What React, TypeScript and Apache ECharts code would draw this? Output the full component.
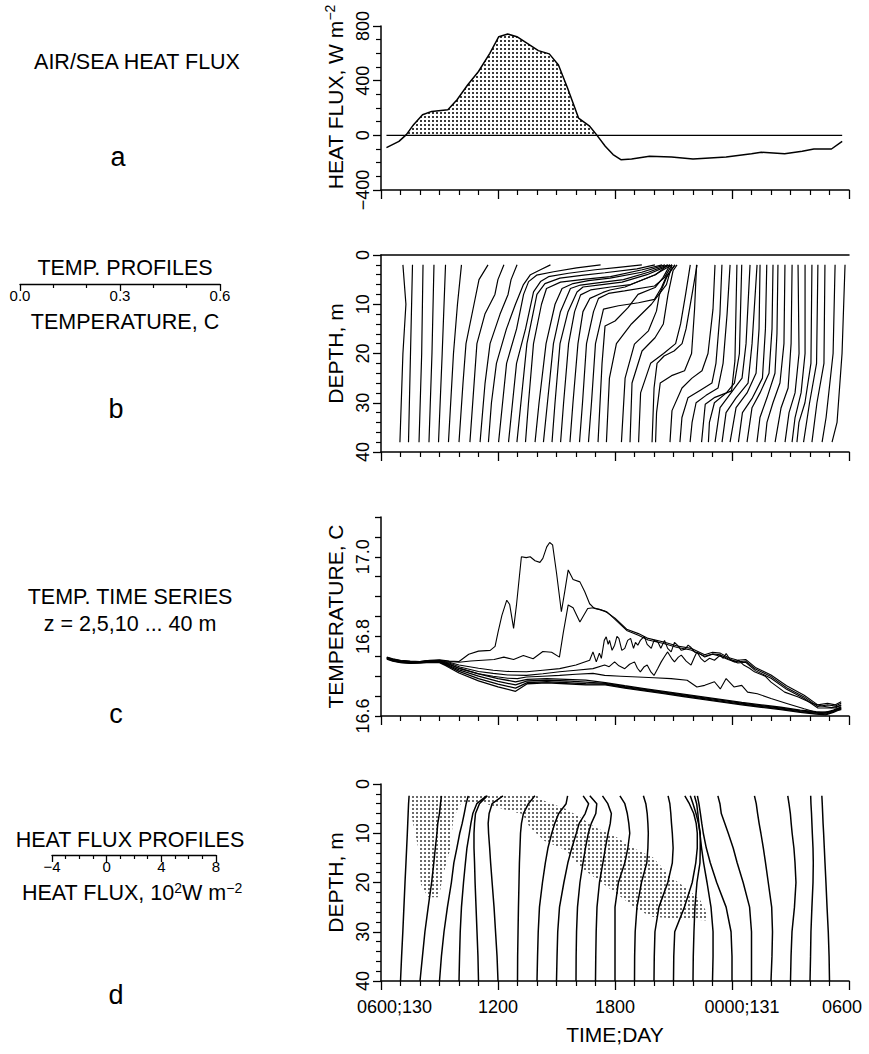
import React, { useEffect, useRef } from 'react';
import * as echarts from 'echarts';

const FONT = '"Liberation Sans", Arial, Helvetica, sans-serif';
const INK = '#000';

// ---------------- shared time axis: hours after 0600, day 130 ----------------
const TIME_TICKS = [0, 6, 12, 18, 24];
const TIME_LABELS = ['0600;130', '1200', '1800', '0000;131', '0600'];

// ---------------- (a) net air/sea heat flux, [hour, W m^-2] ----------------
const HEAT_FLUX: [number, number][] = [
  [0.28, -90], [0.92, -44], [1.3, 5], [1.67, 78], [2.13, 151], [2.6, 175], [3.43, 187],
  [3.9, 260], [4.45, 370], [5.0, 467], [5.58, 600], [6.04, 722], [6.5, 741], [6.97, 722],
  [7.5, 673], [8.07, 620], [8.63, 596], [9.1, 515], [9.57, 345], [10.13, 126], [10.68, 70],
  [11.05, 5], [11.5, -80], [11.9, -141], [12.3, -178], [12.85, -173], [13.77, -153],
  [14.9, -158], [16.0, -173], [17.7, -158], [19.0, -134], [19.5, -124], [20.7, -134],
  [21.6, -117], [22.2, -100], [23.1, -100], [23.65, -44],
];
const FLUX_BASELINE: [number, number][] = [[0.28, 0], [23.65, 0]];

// ---------------- (b) temperature profiles ----------------
// time of each profile (h) and its shape: [depth m, T - T(38 m) in °C]
const PROFILE_TIMES = [
  0.97, 1.41, 1.95, 2.46, 2.95, 3.46, 4.0, 4.56, 5.08, 5.51,
  6.03, 6.54, 6.97, 7.41, 7.9, 8.33, 8.77, 9.21, 9.69, 10.18,
  10.64, 11.13, 11.56, 12.33, 12.77, 13.21, 13.9, 14.08, 14.82, 15.33,
  15.85, 16.44, 16.79, 17.13, 17.49, 17.9, 18.33, 18.77, 19.28, 19.69,
  20.21, 20.72, 21.08, 21.33, 21.67, 22.1, 22.62, 23.13,
];
const PROFILES: [number, number][][] = [
  [[2, .009], [10, .018], [20, .009], [38, 0]],
  [[2, .012], [20, .006], [38, 0]],
  [[2, .012], [20, .008], [38, 0]],
  [[2, .015], [20, .009], [38, 0]],
  [[2, .021], [20, .011], [38, 0]],
  [[2, .039], [10, .027], [20, .015], [38, 0]],
  [[2, .087], [5, .06], [10, .045], [18, .021], [26, .012], [38, 0]],
  [[2, .102], [5, .084], [8, .075], [12, .045], [18, .021], [38, 0]],
  [[2, .111], [5, .093], [8, .084], [12, .06], [18, .03], [26, .015], [38, 0]],
  [[2, .186], [3, .156], [4, .126], [6, .105], [10, .081], [15, .054], [22, .024], [30, .009], [38, 0]],
  [[2, .306], [2.6, .234], [3.4, .165], [4.1, .114], [5.4, .09], [8, .075], [15, .054], [22, .024], [30, .012], [38, 0]],
  [[2, .40], [2.5, .33], [3, .26], [3.7, .18], [4.4, .12], [5.4, .096], [7.5, .075], [15, .051], [22, .024], [30, .012], [38, 0]],
  [[2, .414], [2.8, .36], [3.6, .264], [4.1, .2], [4.7, .129], [5.8, .084], [8, .06], [18, .03], [30, .012], [38, 0]],
  [[2, .41], [3, .35], [4.4, .255], [4.9, .18], [5.5, .105], [6.8, .063], [10, .048], [18, .024], [30, .009], [38, 0]],
  [[2, .39], [3.5, .32], [4.7, .225], [5.2, .16], [5.8, .114], [6.8, .081], [10, .06], [18, .033], [30, .012], [38, 0]],
  [[2, .373], [3.5, .315], [5, .24], [5.5, .18], [6.1, .111], [6.8, .081], [11.5, .051], [18, .03], [30, .012], [38, 0]],
  [[2, .354], [4, .285], [5.5, .21], [6, .15], [6.5, .093], [7.5, .075], [11.5, .048], [18, .024], [30, .009], [38, 0]],
  [[2, .322], [4, .285], [6, .21], [6.5, .15], [7.1, .09], [8.1, .06], [11.5, .042], [18, .024], [30, .009], [38, 0]],
  [[2, .306], [4, .255], [6.5, .165], [7.1, .12], [7.6, .099], [8.8, .06], [11.5, .039], [18, .024], [30, .009], [38, 0]],
  [[2, .277], [4.6, .255], [6.3, .225], [7.3, .135], [7.8, .087], [8.8, .057], [11.5, .042], [18, .021], [30, .009], [38, 0]],
  [[2, .26], [4.3, .234], [6.6, .219], [9, .198], [9.7, .15], [10.3, .09], [11, .045], [18, .021], [30, .009], [38, 0]],
  [[2, .216], [4.6, .195], [6.6, .171], [8, .12], [10.7, .09], [13.4, .051], [14.4, .021], [22, .012], [38, 0]],
  [[2, .197], [6, .18], [10, .135], [14, .075], [18, .03], [25, .009], [38, 0]],
  [[2, .16], [4.6, .135], [8, .114], [11.4, .105], [15.4, .081], [18.1, .039], [25, .011], [38, 0]],
  [[2, .141], [3.2, .129], [8, .114], [14, .1], [16.8, .075], [19.5, .036], [26, .006], [38, 0]],
  [[2, .155], [8, .141], [14, .126], [18, .111], [20, .075], [22, .036], [28, .006], [38, 0]],
  [[2, .135], [8, .12], [15, .102], [18, .09], [19.5, .066], [20.5, .036], [22, .015], [27, .006], [38, 0]],
  [[2, .123], [11, .117], [20, .108], [23.5, .087], [24.5, .048], [26, .014], [32, .003], [38, 0]],
  [[2, .135], [11, .129], [20, .114], [23.5, .096], [25, .066], [27, .036], [31.6, .006], [38, 0]],
  [[2, .126], [12, .12], [22, .108], [26, .096], [27.5, .06], [29, .024], [33, .006], [38, 0]],
  [[2, .12], [12, .111], [22, .099], [27, .084], [28.5, .048], [30, .018], [34, .006], [38, 0]],
  [[2, .106], [21.5, .1], [27.6, .09], [28.9, .04], [30.3, .011], [38, 0]],
  [[2, .1], [20, .093], [26, .078], [28, .054], [30, .018], [34, .003], [38, 0]],
  [[2, .105], [18, .093], [25, .081], [28, .048], [31, .015], [38, 0]],
  [[2, .105], [18, .09], [26, .078], [29, .042], [32, .012], [38, 0]],
  [[2, .09], [15, .087], [24, .078], [28, .051], [31, .018], [38, 0]],
  [[2, .085], [15, .081], [25, .072], [29, .042], [32, .012], [38, 0]],
  [[2, .078], [15, .075], [24, .066], [28, .039], [31, .015], [38, 0]],
  [[2, .063], [16, .06], [24, .054], [29, .03], [33, .009], [38, 0]],
  [[2, .06], [18, .057], [26, .045], [30, .024], [34, .006], [38, 0]],
  [[2, .051], [18, .048], [27, .039], [31, .018], [38, 0]],
  [[2, .039], [20, .042], [28, .03], [32, .012], [38, 0]],
  [[2, .039], [20, .039], [28, .027], [33, .009], [38, 0]],
  [[2, .045], [22, .042], [30, .024], [34, .006], [38, 0]],
  [[2, .043], [22, .039], [30, .018], [38, 0]],
  [[2, .039], [22, .036], [30, .015], [38, 0]],
  [[2, .039], [20, .033], [33, .012], [38, 0]],
  [[2, .039], [20, .03], [34, .015], [38, 0]],
];
const TEMP_KEY = [0, 0.6];

// ---------------- (c) temperature time series, [hour, °C] ----------------
const T_2M: [number, number][] = [
  [0.3, 16.748], [0.6, 16.744], [1.0, 16.740], [1.5, 16.738], [2.0, 16.737], [2.5, 16.740], [3.0, 16.741],
  [3.5, 16.738], [4.0, 16.737], [4.5, 16.755], [5.0, 16.763], [5.6, 16.765], [5.85, 16.775], [6.0, 16.81],
  [6.2, 16.853], [6.45, 16.891], [6.6, 16.88], [6.8, 16.82], [6.95, 16.88], [7.2, 17.0], [7.45, 16.998],
  [7.65, 17.0], [7.9, 16.99], [8.15, 16.986], [8.3, 16.996], [8.5, 17.025], [8.65, 17.036], [8.8, 17.03],
  [9.0, 16.96], [9.25, 16.862], [9.42, 16.912], [9.6, 16.967], [9.85, 16.943], [10.2, 16.937], [10.45, 16.912],
  [10.7, 16.882], [10.95, 16.87], [11.2, 16.868], [11.5, 16.863], [12.0, 16.846], [12.6, 16.818], [13.2, 16.807],
  [13.7, 16.795], [14.5, 16.786], [15.2, 16.776], [15.9, 16.770], [16.6, 16.754], [17.0, 16.760], [17.4, 16.758],
  [17.8, 16.747], [18.3, 16.740], [18.7, 16.742], [19.2, 16.722], [20.0, 16.703], [20.8, 16.676], [21.7, 16.652],
  [22.4, 16.628], [22.9, 16.632], [23.3, 16.628], [23.6, 16.636],
];
const T_5M: [number, number][] = [
  [0.3, 16.747], [0.6, 16.743], [1.0, 16.739], [1.5, 16.737], [2.0, 16.736], [2.5, 16.739], [3.0, 16.740],
  [3.5, 16.737], [4.0, 16.735], [4.6, 16.738], [5.2, 16.740], [5.8, 16.742], [6.3, 16.748], [6.8, 16.742],
  [7.3, 16.752], [7.8, 16.744], [8.3, 16.762], [8.75, 16.760], [9.15, 16.748], [9.35, 16.81], [9.6, 16.879],
  [9.85, 16.872], [10.2, 16.836], [10.6, 16.87], [10.9, 16.872], [11.3, 16.866], [11.6, 16.861], [12.0, 16.843],
  [12.6, 16.815], [13.2, 16.803], [13.7, 16.791], [14.5, 16.782], [15.2, 16.772], [15.9, 16.766], [16.6, 16.750],
  [17.0, 16.756], [17.4, 16.754], [17.8, 16.744], [18.3, 16.736], [18.7, 16.738], [19.2, 16.718], [20.0, 16.699],
  [20.8, 16.671], [21.7, 16.648], [22.4, 16.624], [22.9, 16.628], [23.3, 16.625], [23.6, 16.632],
];
const T_10M: [number, number][] = [
  [0.3, 16.747], [0.6, 16.742], [1.0, 16.738], [1.5, 16.737], [2.0, 16.737], [2.5, 16.739], [3.0, 16.739],
  [3.5, 16.735], [4.0, 16.728], [5.0, 16.72], [5.75, 16.715], [6.5, 16.712], [7.46, 16.711], [8.3, 16.715],
  [9.16, 16.719], [10.0, 16.728], [10.7, 16.740], [10.87, 16.761], [11.04, 16.736], [11.2, 16.758], [11.3, 16.745],
  [11.45, 16.79], [11.55, 16.799], [11.65, 16.78], [11.72, 16.79], [11.85, 16.765], [11.98, 16.778], [12.1, 16.80],
  [12.2, 16.795], [12.35, 16.765], [12.5, 16.77], [12.65, 16.79], [12.8, 16.795], [12.95, 16.77], [13.05, 16.785],
  [13.17, 16.778], [13.3, 16.79], [13.5, 16.8], [13.65, 16.78], [13.86, 16.77], [14.0, 16.79], [14.2, 16.786],
  [14.35, 16.77], [14.54, 16.79], [14.7, 16.77], [14.88, 16.761], [15.05, 16.785], [15.2, 16.778], [15.4, 16.765],
  [15.6, 16.768], [15.75, 16.778], [15.9, 16.772], [16.1, 16.76], [16.3, 16.758], [16.6, 16.748], [17.0, 16.755],
  [17.4, 16.75], [17.8, 16.742], [18.3, 16.733], [18.7, 16.735], [19.2, 16.714], [20.0, 16.695], [20.8, 16.667],
  [21.7, 16.644], [22.4, 16.62], [22.9, 16.62], [23.3, 16.62], [23.6, 16.628],
];
const T_15M: [number, number][] = [
  [0.3, 16.746], [0.6, 16.741], [1.0, 16.738], [1.5, 16.736], [2.0, 16.737], [2.5, 16.739], [3.0, 16.738],
  [3.5, 16.733], [4.04, 16.723], [5.0, 16.712], [5.75, 16.707], [6.5, 16.703], [7.46, 16.702], [8.3, 16.706],
  [9.16, 16.711], [10.0, 16.715], [10.87, 16.719], [11.47, 16.728], [11.7, 16.724], [11.98, 16.736], [12.2, 16.726],
  [12.5, 16.719], [12.75, 16.73], [13.0, 16.736], [13.15, 16.72], [13.3, 16.711], [13.5, 16.724], [13.65, 16.728],
  [13.85, 16.71], [14.0, 16.702], [14.2, 16.72], [14.37, 16.736], [14.55, 16.75], [14.7, 16.761], [14.9, 16.745],
  [15.05, 16.736], [15.25, 16.748], [15.4, 16.753], [15.65, 16.738], [15.9, 16.728], [16.05, 16.745], [16.2, 16.761],
  [16.4, 16.745], [16.6, 16.736], [16.85, 16.745], [17.1, 16.74], [17.4, 16.753], [17.55, 16.745], [17.7, 16.757],
  [17.9, 16.742], [18.1, 16.736], [18.35, 16.74], [18.6, 16.728], [18.9, 16.72], [19.15, 16.711], [19.7, 16.70],
  [20.0, 16.685], [20.7, 16.66], [21.4, 16.648], [22.1, 16.632], [22.6, 16.625], [23.1, 16.621], [23.6, 16.626],
];
const T_20M: [number, number][] = [
  [0.3, 16.746], [0.6, 16.741], [1.0, 16.737], [1.5, 16.736], [2.0, 16.736], [2.5, 16.738], [3.0, 16.737],
  [3.5, 16.731], [4.04, 16.719], [5.0, 16.706], [5.75, 16.700], [6.5, 16.695], [7.0, 16.694], [7.46, 16.698],
  [8.3, 16.700], [9.16, 16.702], [10.0, 16.705], [10.87, 16.707], [11.47, 16.702], [12.3, 16.700], [13.17, 16.698],
  [14.0, 16.696], [14.88, 16.694], [15.7, 16.69], [16.2, 16.673], [16.6, 16.677], [17.1, 16.686], [17.4, 16.668],
  [17.7, 16.694], [18.1, 16.673], [18.5, 16.677], [18.8, 16.66], [19.3, 16.656], [20.0, 16.644], [20.85, 16.631],
  [21.7, 16.618], [22.4, 16.608], [23.1, 16.612], [23.6, 16.616],
];
const DEEP_TIMES = [
  0.3, 0.6, 1.0, 1.5, 2.0, 2.5, 3.0, 3.3, 4.0, 5.0, 6.0, 6.9, 7.5, 8.5, 9.5, 10.5,
  11.5, 12.5, 13.5, 14.5, 15.5, 16.5, 17.5, 18.5, 19.5, 20.5, 21.5, 22.3, 22.8, 23.2, 23.6,
];
const T_25M = [
  16.746, 16.741, 16.737, 16.735, 16.736, 16.738, 16.737, 16.733, 16.720, 16.706, 16.694, 16.686, 16.692, 16.694, 16.692, 16.690,
  16.684, 16.676, 16.669, 16.662, 16.655, 16.648, 16.641, 16.634, 16.628, 16.622, 16.615, 16.611, 16.609, 16.615, 16.623,
];
const T_30M = [
  16.745, 16.740, 16.736, 16.734, 16.735, 16.737, 16.736, 16.731, 16.716, 16.700, 16.687, 16.678, 16.688, 16.690, 16.688, 16.685,
  16.682, 16.674, 16.667, 16.660, 16.653, 16.646, 16.639, 16.632, 16.626, 16.620, 16.613, 16.609, 16.607, 16.613, 16.621,
];
const T_35M = [
  16.744, 16.739, 16.735, 16.733, 16.734, 16.736, 16.735, 16.729, 16.712, 16.694, 16.680, 16.670, 16.684, 16.686, 16.684, 16.681,
  16.680, 16.672, 16.665, 16.658, 16.651, 16.644, 16.637, 16.630, 16.624, 16.618, 16.611, 16.607, 16.605, 16.611, 16.620,
];
const T_40M = [
  16.743, 16.738, 16.734, 16.732, 16.733, 16.735, 16.734, 16.727, 16.708, 16.688, 16.673, 16.662, 16.681, 16.683, 16.681, 16.678,
  16.678, 16.670, 16.663, 16.656, 16.649, 16.642, 16.635, 16.628, 16.622, 16.616, 16.609, 16.605, 16.603, 16.609, 16.618,
];

// ---------------- (d) heat flux profiles, 10^2 W m^-2 ----------------
const FLUX_PROFILE_TIMES = [1, 2, 3, 4, 5, 6, 7, 8, 9, 10, 11, 12, 13, 14, 15, 16, 17, 18, 19, 20, 21, 22, 23];
const FLUX_PROFILE_DEPTHS = [2.4, 4, 6, 8, 10, 13, 16, 20, 25, 30, 35, 40];
const FLUX_PROFILES = [
  [0.63, 0.59, 0.56, 0.53, 0.50, 0.45, 0.40, 0.33, 0.25, 0.17, 0.08, 0],
  [1.57, 1.50, 1.42, 1.30, 1.24, 1.12, 1.01, 0.85, 0.60, 0.36, 0.18, 0],
  [2.10, 1.95, 1.81, 1.66, 1.48, 1.27, 1.05, 0.87, 0.58, 0.33, 0.14, 0],
  [2.02, 1.30, 1.01, 0.87, 0.76, 0.58, 0.47, 0.33, 0.18, 0.09, 0.04, 0],
  [0.65, 0.07, -0.22, -0.29, -0.33, -0.33, -0.29, -0.25, -0.18, -0.11, -0.04, 0],
  [0.36, -0.43, -0.65, -0.72, -0.69, -0.61, -0.54, -0.43, -0.29, -0.18, -0.07, 0],
  [1.27, 0.80, 0.43, 0.29, 0.22, 0.18, 0.14, 0.11, 0.07, 0.04, 0.01, 0],
  [2.24, 2.13, 1.59, 1.30, 1.08, 0.80, 0.61, 0.40, 0.18, 0.09, 0.04, 0],
  [1.95, 2.35, 2.10, 1.66, 1.45, 1.12, 0.83, 0.54, 0.22, 0.09, 0.04, 0],
  [1.01, 1.52, 1.45, 1.12, 0.90, 0.69, 0.51, 0.29, 0.11, 0.04, 0.01, 0],
  [0.51, 0.90, 1.16, 1.08, 0.92, 0.72, 0.54, 0.29, 0.11, 0.05, 0.02, 0],
  [0.36, 0.72, 0.90, 1.01, 1.08, 0.94, 0.72, 0.25, 0, 0, 0, 0],
  [0.65, 0.83, 0.93, 0.98, 1.01, 0.98, 0.90, 0.51, 0.18, 0.05, 0.01, 0],
  [1.03, 1.16, 1.23, 1.28, 1.34, 1.40, 1.34, 1.01, 0.36, 0.07, 0.02, 0],
  [0.83, 1.16, 1.48, 1.66, 1.74, 1.74, 1.63, 1.37, 0.80, 0.09, 0.02, 0],
  [-0.20, 0, 0.22, 0.40, 0.53, 0.53, 0.51, 0.29, 0.14, 0.07, 0.02, 0],
  [-1.32, -1.16, -1.07, -1.00, -0.92, -0.80, -0.65, -0.40, -0.11, 0.04, 0.04, 0],
  [-2.53, -2.42, -2.31, -2.21, -2.10, -1.88, -1.59, -1.12, -0.43, -0.07, 0, 0],
  [-2.46, -2.31, -2.21, -1.95, -1.70, -1.34, -1.05, -0.61, -0.14, 0, 0, 0],
  [-1.21, -1.08, -0.98, -0.87, -0.74, -0.56, -0.40, -0.20, 0.05, 0.11, 0.07, 0],
  [-0.20, -0.11, -0.01, 0.05, 0.12, 0.25, 0.33, 0.40, 0.29, 0.11, 0.04, 0],
  [0.05, 0.07, 0.11, 0.14, 0.17, 0.22, 0.24, 0.22, 0.14, 0.07, 0.04, 0],
  [-0.56, -0.53, -0.50, -0.47, -0.43, -0.38, -0.33, -0.26, -0.18, -0.09, -0.03, 0],
];
// stippled zone of flux convergence, [hour, depth m]
const CONVERGENCE_ZONE: [number, number][] = [
  [1.48, 2.4], [8.0, 2.4], [8.37, 3.4], [9.49, 5.1], [10.23, 6.8], [10.98, 8.8], [12.09, 10.8],
  [12.84, 12.8], [13.95, 14.9], [14.88, 18.9], [15.81, 21.6], [16.37, 23.6], [16.75, 26.4],
  [16.75, 27.7], [13.95, 27.0], [13.21, 25.7], [12.09, 22.3], [11.16, 19.6], [10.23, 16.9],
  [9.49, 13.5], [8.37, 11.5], [7.63, 8.8], [7.25, 6.1], [6.51, 5.4], [5.39, 4.05], [4.09, 4.05],
  [3.72, 6.8], [3.53, 13.5], [3.16, 18.9], [2.97, 23.0], [2.41, 23.0], [2.04, 20.3], [1.94, 13.5],
  [1.58, 6.8],
];
const FLUX_KEY = [-4, 8];

// ---------------- layout ----------------
const GRID_LEFT = 381;
const GRID_W = 468;
const GRID_TOPS = [26, 255, 517, 784];
const GRID_HEIGHTS = [164, 197, 199, 197];
const TEMP_KEY_BOX = { left: 20, top: 283, width: 200 };
const FLUX_KEY_BOX = { left: 52, top: 854, width: 164 };

const PX_PER_HOUR = GRID_W / 24;
const HOURS_PER_DEG = TEMP_KEY_BOX.width / (TEMP_KEY[1] - TEMP_KEY[0]) / PX_PER_HOUR;
const HOURS_PER_FLUX = FLUX_KEY_BOX.width / (FLUX_KEY[1] - FLUX_KEY[0]) / PX_PER_HOUR;

function positivePart(pts: [number, number][]) {
  const out: [number, number][] = [];
  pts.forEach(([t, v], i) => {
    if (i > 0) {
      const [t0, v0] = pts[i - 1];
      if (v0 < 0 !== v < 0) out.push([t0 + ((0 - v0) * (t - t0)) / (v - v0), 0]);
    }
    out.push([t, Math.max(0, v)]);
  });
  return out;
}

function dots(step: number, size: number, color: string) {
  const c = document.createElement('canvas');
  c.width = step;
  c.height = step;
  const ctx = c.getContext('2d')!;
  ctx.fillStyle = color;
  ctx.fillRect(0, 0, size, size);
  return { image: c, repeat: 'repeat', imageWidth: step, imageHeight: step };
}

const minus = (v: number) => (v < 0 ? '\u2212' + Math.abs(v) : String(v));

function buildOption() {
  const dotsA = dots(4, 2, '#3a3a3a');
  const dotsD = dots(4, 2, '#6a6a6a');

  const axisLine = { show: true, onZero: false, lineStyle: { color: INK, width: 1.5 } };
  const tick = (length: number) => ({ show: true, length, lineStyle: { color: INK, width: 1.3 } });
  const minor = (splitNumber: number, length = 5) => ({
    show: true, splitNumber, length, lineStyle: { color: INK, width: 1.2 },
  });
  const labelStyle = { fontFamily: FONT, fontSize: 18, color: INK };
  const keyLabelStyle = { fontFamily: FONT, fontSize: 15, color: INK, lineHeight: 15 };
  const nameStyle = { fontFamily: FONT, fontSize: 21, color: INK };

  const timeAxis = (gi: number, withLabels: boolean) => ({
    type: 'value', gridIndex: gi, min: 0, max: 24, interval: 6,
    axisLine, axisTick: tick(9), minorTick: minor(6),
    splitLine: { show: false }, minorSplitLine: { show: false },
    axisLabel: withLabels
      ? {
          ...labelStyle, margin: 17,
          formatter: (v: number) => {
            const i = TIME_TICKS.indexOf(Math.round(v));
            return i < 0 ? '' : `{l${i}|${TIME_LABELS[i]}}`;
          },
          rich: {
            l0: { ...labelStyle, padding: [0, 0, 0, 27] },
            l1: { ...labelStyle },
            l2: { ...labelStyle },
            l3: { ...labelStyle, padding: [0, 0, 0, 20] },
            l4: { ...labelStyle, padding: [0, 14, 0, 0] },
          },
        }
      : { show: false },
    name: withLabels ? 'TIME;DAY' : '',
    nameLocation: 'middle', nameGap: 43, nameTextStyle: nameStyle,
  });

  const depthAxis = (gi: number) => ({
    type: 'value', gridIndex: gi, inverse: true, min: 0, max: 40, interval: 10,
    axisLine, axisTick: tick(8), minorTick: minor(5),
    splitLine: { show: false }, minorSplitLine: { show: false },
    axisLabel: { ...labelStyle, rotate: 90, margin: 9 },
    name: 'DEPTH, m', nameLocation: 'middle', nameRotate: 90, nameGap: 25, nameTextStyle: nameStyle,
  });

  const xAxis: any[] = [
    timeAxis(0, false),
    timeAxis(1, false),
    timeAxis(2, false),
    timeAxis(3, true),
    { type: 'value', gridIndex: 1, position: 'top', min: 0, max: 24, axisLine,
      axisTick: { show: false }, axisLabel: { show: false }, splitLine: { show: false } },
    { type: 'value', gridIndex: 4, min: TEMP_KEY[0], max: TEMP_KEY[1], interval: 0.3,
      axisLine: { show: true, lineStyle: { color: INK, width: 1.3 } },
      axisTick: tick(7), minorTick: minor(3, 4), splitLine: { show: false },
      axisLabel: { ...keyLabelStyle, margin: 4, formatter: (v: number) => v.toFixed(1) } },
    { type: 'value', gridIndex: 5, min: FLUX_KEY[0], max: FLUX_KEY[1], interval: 4,
      axisLine: { show: true, lineStyle: { color: INK, width: 1.3 } },
      axisTick: tick(7), minorTick: minor(4, 4), splitLine: { show: false },
      axisLabel: { ...keyLabelStyle, margin: 4, formatter: (v: number) => minus(v) } },
  ];

  const yAxis: any[] = [
    {
      type: 'value', gridIndex: 0, min: -400, max: 800, interval: 400,
      axisLine, axisTick: tick(8), minorTick: minor(4),
      splitLine: { show: false }, minorSplitLine: { show: false },
      axisLabel: { ...labelStyle, rotate: 90, margin: 9, formatter: (v: number) => minus(v) },
      name: '{n|HEAT FLUX, W m}{s|\u22122}', nameLocation: 'middle', nameRotate: 90, nameGap: 25,
      nameTextStyle: {
        ...nameStyle, padding: [0, 0, 0, 22],
        rich: {
          n: { ...nameStyle, lineHeight: 26 },
          s: { fontFamily: FONT, fontSize: 14, color: INK, verticalAlign: 'top' },
        },
      },
    },
    depthAxis(1),
    {
      type: 'value', gridIndex: 2, min: 16.6, max: 17.1, interval: 0.05,
      axisLine, axisTick: tick(6),
      splitLine: { show: false },
      axisLabel: {
        ...labelStyle, rotate: 90, margin: 9,
        formatter: (v: number) => {
          const r = Math.round(v * 100);
          return r === 1660 || r === 1680 || r === 1700 ? (r / 100).toFixed(1) : '';
        },
      },
      name: 'TEMPERATURE, C', nameLocation: 'middle', nameRotate: 90, nameGap: 30, nameTextStyle: nameStyle,
    },
    depthAxis(3),
    { type: 'value', gridIndex: 4, show: false, min: 0, max: 1 },
    { type: 'value', gridIndex: 5, show: false, min: 0, max: 1 },
  ];

  const grid = [
    ...GRID_TOPS.map((top, i) => ({ left: GRID_LEFT, top, width: GRID_W, height: GRID_HEIGHTS[i] })),
    { left: TEMP_KEY_BOX.left, top: TEMP_KEY_BOX.top, width: TEMP_KEY_BOX.width, height: 1 },
    { left: FLUX_KEY_BOX.left, top: FLUX_KEY_BOX.top, width: FLUX_KEY_BOX.width, height: 1 },
  ];

  const line = (xi: number, yi: number, data: number[][], width: number, z = 3) => ({
    type: 'line', xAxisIndex: xi, yAxisIndex: yi, data, symbol: 'none', showSymbol: false,
    lineStyle: { color: INK, width }, silent: true, z, clip: true,
  });

  const series: any[] = [];

  // (a) stippled heating, zero line and flux curve
  series.push({
    ...line(0, 0, positivePart(HEAT_FLUX), 0, 1),
    lineStyle: { width: 0, color: INK, opacity: 0 },
    areaStyle: { color: dotsA, opacity: 1 },
  });
  series.push(line(0, 0, FLUX_BASELINE, 1.4));
  series.push(line(0, 0, HEAT_FLUX, 1.5));

  // (b) profiles placed at their times
  PROFILES.forEach((shape, i) => {
    const t0 = PROFILE_TIMES[i];
    series.push(line(1, 1, shape.map(([d, dT]) => [t0 + dT * HOURS_PER_DEG, d]), 1.2));
  });

  // (c) time series
  const deep = [T_25M, T_30M, T_35M, T_40M].map((vals) => vals.map((v, i) => [DEEP_TIMES[i], v]));
  [T_2M, T_5M, T_10M, T_15M, T_20M, ...deep].forEach((s, i) => {
    series.push(line(2, 2, s as number[][], i >= 5 ? 1.3 : 1.1));
  });

  // (d) stippled zone and flux profiles
  series.push({
    type: 'custom', xAxisIndex: 3, yAxisIndex: 3, data: [[12, 20]], silent: true, z: 1, clip: true,
    renderItem: (_p: any, api: any) => ({
      type: 'polygon',
      shape: { points: CONVERGENCE_ZONE.map((p) => api.coord(p)) },
      style: { fill: dotsD, stroke: null },
    }),
  });
  FLUX_PROFILES.forEach((vals, i) => {
    const t0 = FLUX_PROFILE_TIMES[i];
    series.push(line(3, 3, vals.map((f, k) => [t0 + f * HOURS_PER_FLUX, FLUX_PROFILE_DEPTHS[k]]), 1.5));
  });

  const txt = (text: string, x: number, y: number, size = 21.5, rich?: any) => ({
    type: 'text', x, y, silent: true,
    style: {
      text, fill: INK, font: `${size}px ${FONT}`,
      textAlign: 'center', textVerticalAlign: 'middle', align: 'center', verticalAlign: 'middle',
      ...(rich ? { rich } : {}),
    },
  });
  const supRich = {
    n: { fontSize: 21.5, fontFamily: FONT, fill: INK, lineHeight: 24 },
    s: { fontSize: 14, fontFamily: FONT, fill: INK, verticalAlign: 'top' },
  };

  const graphic = [
    txt('AIR/SEA HEAT FLUX', 137, 62),
    txt('a', 118, 157, 27),
    txt('TEMP. PROFILES', 125, 268),
    txt('TEMPERATURE, C', 125, 322),
    txt('b', 116, 409, 27),
    txt('TEMP. TIME SERIES', 130, 597),
    txt('z = 2,5,10 ... 40 m', 130, 624),
    txt('c', 116, 714, 27),
    txt('HEAT FLUX PROFILES', 130, 840),
    txt('{n|HEAT FLUX, 10}{s|2}{n|W m}{s|\u22122}', 132, 893, 21.5, supRich),
    txt('d', 116, 995, 27),
  ];

  return {
    animation: false,
    backgroundColor: '#fff',
    textStyle: { fontFamily: FONT },
    grid, xAxis, yAxis, series, graphic,
  };
}

export default function App() {
  const ref = useRef<HTMLDivElement>(null);
  useEffect(() => {
    if (!ref.current) return;
    const chart = echarts.init(ref.current, null, { renderer: 'svg' });
    chart.setOption(buildOption() as any);
    return () => chart.dispose();
  }, []);
  return (
    <div
      ref={ref}
      style={{ position: 'absolute', left: 0, top: 0, width: 869, height: 1054, background: '#fff' }}
    />
  );
}
